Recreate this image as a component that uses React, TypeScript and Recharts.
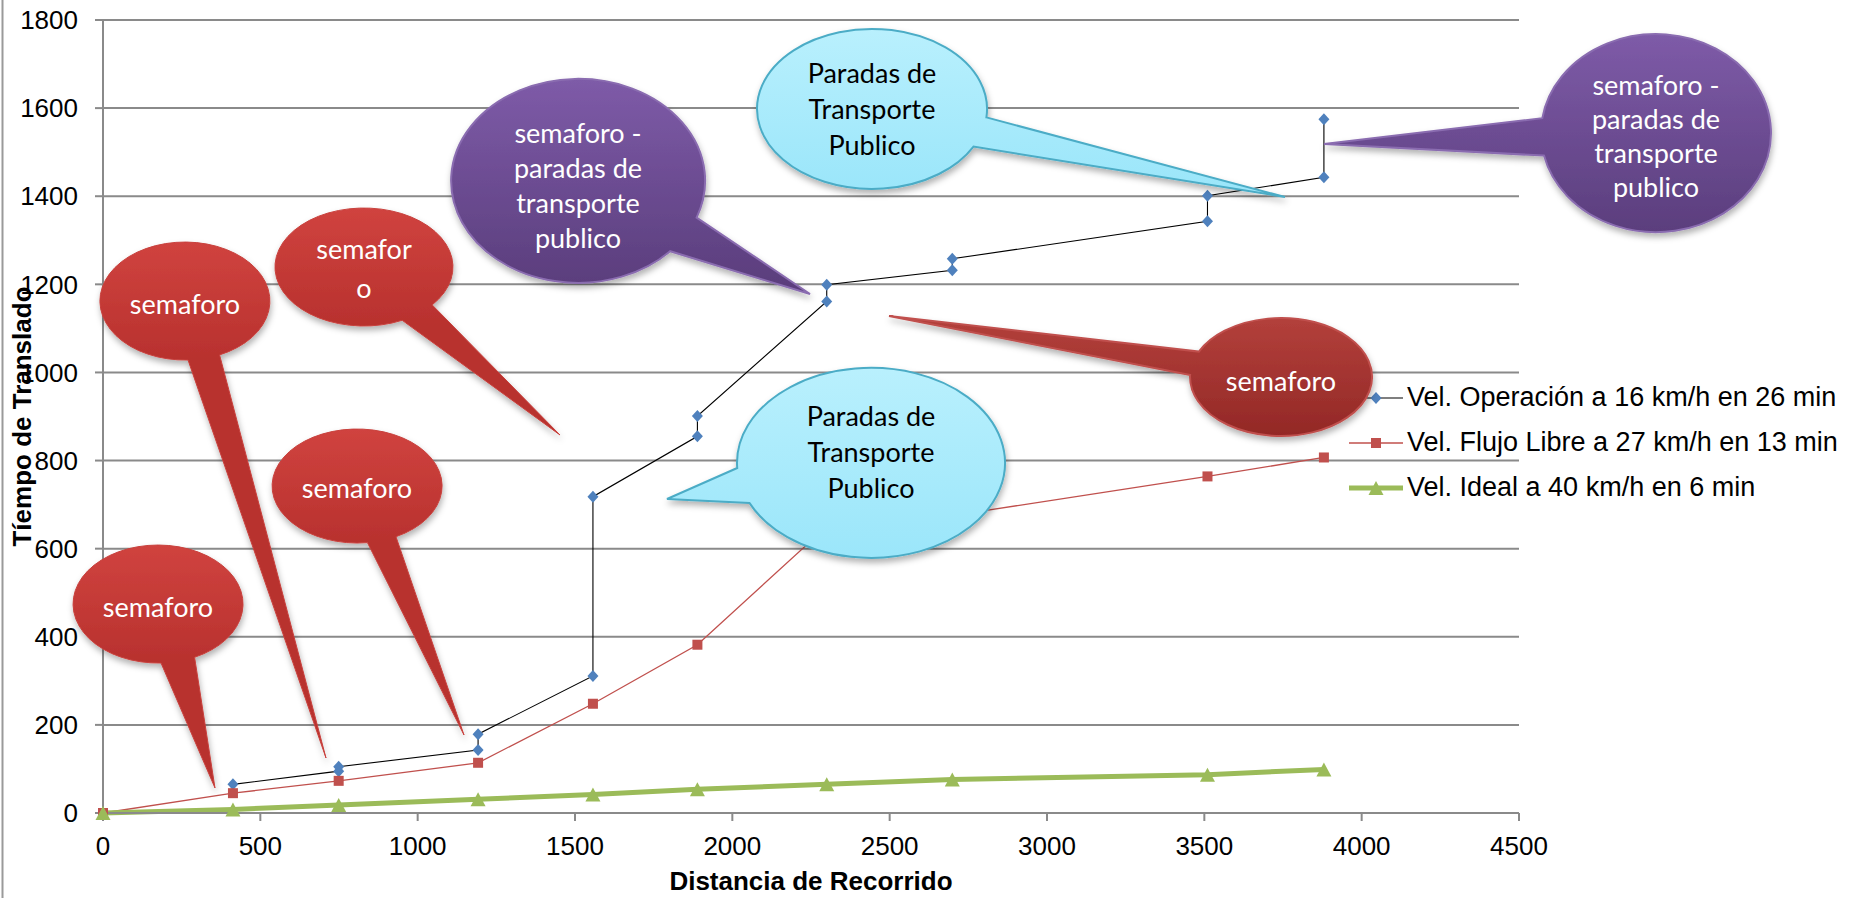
import React from "react";
import { CartesianGrid, Label, Legend, Line, LineChart, XAxis, YAxis } from "recharts";

// distancia (m) y tiempo (s)
const distOperacion = [413, 749, 749, 1192, 1192, 1557, 1557, 1889, 1889, 2300, 2300, 2699, 2699, 3510, 3510, 3880, 3880];
const tiempoOperacion = [65, 95, 105, 143, 179, 311, 718, 855, 901, 1161, 1199, 1232, 1258, 1343, 1401, 1443, 1575];

const distFlujo = [0, 413, 749, 1192, 1557, 1889, 2300, 2699, 3510, 3880];
const tiempoFlujo = [0, 45, 73, 114, 248, 382, 650, 675, 764, 807];

const distIdeal = [0, 413, 749, 1192, 1557, 1889, 2300, 2699, 3510, 3880];
const tiempoIdeal = [0, 8, 18, 31, 42, 54, 65, 76, 87, 99];

const xTicks = [0, 500, 1000, 1500, 2000, 2500, 3000, 3500, 4000, 4500];
const yTicks = [0, 200, 400, 600, 800, 1000, 1200, 1400, 1600, 1800];

const nameOperacion = "Vel. Operación a 16 km/h en 26 min";
const nameFlujo = "Vel. Flujo Libre a 27 km/h en 13 min";
const nameIdeal = "Vel. Ideal a 40 km/h en 6 min";
const legendOrder = [nameOperacion, nameFlujo, nameIdeal];

const FONT = "'Liberation Sans', Arial, sans-serif";
const CALLOUT_FONT = "Lato, 'Open Sans', sans-serif";

const toPoints = (xs: number[], ys: number[]) => xs.map((x, i) => ({ x, y: ys[i] }));

const BLUE = "#4F81BD";
const RED = "#C0504D";
const GREEN = "#9BBB59";

const Diamond = (props: any) => {
  const { cx, cy } = props;
  if (cx == null || cy == null) return null;
  return <path d={`M${cx},${cy - 6}L${cx + 5.5},${cy}L${cx},${cy + 6}L${cx - 5.5},${cy}Z`} fill={BLUE} />;
};

const Square = (props: any) => {
  const { cx, cy } = props;
  if (cx == null || cy == null) return null;
  return <rect x={cx - 5} y={cy - 5} width={10} height={10} fill={RED} />;
};

const Triangle = (props: any) => {
  const { cx, cy } = props;
  if (cx == null || cy == null) return null;
  return <path d={`M${cx},${cy - 7}L${cx + 7.5},${cy + 7}L${cx - 7.5},${cy + 7}Z`} fill={GREEN} />;
};

const legendStyles: Record<string, { line: string; w: number; marker: string }> = {
  [nameOperacion]: { line: "#000", w: 1.2, marker: "diamond" },
  [nameFlujo]: { line: RED, w: 1.5, marker: "square" },
  [nameIdeal]: { line: GREEN, w: 5, marker: "triangle" },
};

const renderLegend = (props: any) => {
  const items = [...(props.payload || [])].sort(
    (a: any, b: any) => legendOrder.indexOf(a.value) - legendOrder.indexOf(b.value)
  );
  return (
    <div style={{ fontFamily: FONT, fontSize: 27, color: "#000" }}>
      {items.map((it: any, i: number) => {
        const s = legendStyles[it.value];
        if (!s) return null;
        return (
          <div key={i} style={{ display: "flex", alignItems: "center", height: 45 }}>
            <svg width={54} height={20} style={{ marginRight: 4, flex: "none" }}>
              <line x1={0} y1={10} x2={54} y2={10} stroke={s.line} strokeWidth={s.w} />
              {s.marker === "diamond" && <Diamond cx={27} cy={10} />}
              {s.marker === "square" && <Square cx={27} cy={10} />}
              {s.marker === "triangle" && <Triangle cx={27} cy={10} />}
            </svg>
            <span style={{ whiteSpace: "nowrap" }}>{it.value}</span>
          </div>
        );
      })}
    </div>
  );
};

// globos de texto (anotaciones sobre el grafico, en pixeles)
type Callout = {
  cx: number; cy: number; rx: number; ry: number;
  a1: number; a2: number; tip: [number, number];
  lines: string[]; textY: number; lh: number;
  top: string; bottom: string; stroke: string; sw: number; color: string;
};

const redBubble = { top: "#D0433F", bottom: "#B8312E", stroke: "#C8413D", sw: 1, color: "#fff" };
const purpleBubble = { top: "#7E5BA8", bottom: "#5B3E7D", stroke: "#8A6CB0", sw: 2, color: "#fff" };
const cyanBubble = { top: "#B9F0FD", bottom: "#9BE6FA", stroke: "#4BACC6", sw: 2, color: "#000" };

const callouts: Callout[] = [
  { cx: 158, cy: 604, rx: 85, ry: 59, a1: 64.5, a2: 88, tip: [215, 788], lines: ["semaforo"], textY: 606, lh: 35, ...redBubble },
  { cx: 185, cy: 301, rx: 85, ry: 59, a1: 66, a2: 88, tip: [326, 758], lines: ["semaforo"], textY: 303, lh: 35, ...redBubble },
  { cx: 364, cy: 267, rx: 89, ry: 59, a1: 40, a2: 64.6, tip: [560, 435], lines: ["semafor", "o"], textY: 268, lh: 39, ...redBubble },
  { cx: 357, cy: 486, rx: 85, ry: 57, a1: 62.7, a2: 83, tip: [464, 735], lines: ["semaforo"], textY: 487, lh: 35, ...redBubble },
  { cx: 578, cy: 181, rx: 127, ry: 102, a1: 21, a2: 43.5, tip: [810, 294], lines: ["semaforo -", "paradas de", "transporte", "publico"], textY: 185, lh: 35, ...purpleBubble },
  { cx: 872, cy: 109, rx: 115, ry: 80, a1: 6, a2: 28, tip: [1285, 197], lines: ["Paradas de", "Transporte", "Publico"], textY: 108, lh: 36, ...cyanBubble },
  { cx: 871, cy: 463, rx: 134, ry: 95, a1: 155, a2: 177, tip: [667, 499], lines: ["Paradas de", "Transporte", "Publico"], textY: 451, lh: 36, ...cyanBubble },
  { cx: 1281, cy: 377, rx: 91, ry: 59, a1: 182, a2: 205.5, tip: [889, 316], lines: ["semaforo"], textY: 380, lh: 35, top: "#B3403B", bottom: "#932826", stroke: "#C0504D", sw: 2, color: "#fff" },
  { cx: 1656, cy: 133, rx: 115, ry: 99, a1: 166.8, a2: 188.6, tip: [1324, 144], lines: ["semaforo -", "paradas de", "transporte", "publico"], textY: 135, lh: 34, ...purpleBubble },
];

const onEllipse = (c: Callout, a: number) => {
  const r = (a * Math.PI) / 180;
  return `${(c.cx + c.rx * Math.cos(r)).toFixed(1)},${(c.cy + c.ry * Math.sin(r)).toFixed(1)}`;
};

const bubblePath = (c: Callout) => {
  const p1 = onEllipse(c, c.a1);
  const p2 = onEllipse(c, c.a2);
  return `M${p1} L${c.tip[0]},${c.tip[1]} L${p2} A${c.rx} ${c.ry} 0 1 1 ${p1} Z`;
};

const CalloutLayer = () => (
  <svg width={1859} height={898} style={{ position: "absolute", left: 0, top: 0, pointerEvents: "none" }}>
    <defs>
      <filter id="bubbleShadow" x="-30%" y="-30%" width="160%" height="170%">
        <feDropShadow dx={1} dy={4} stdDeviation={3} floodColor="#000" floodOpacity={0.3} />
      </filter>
      {callouts.map((c, i) => (
        <linearGradient key={i} id={`bg${i}`} gradientUnits="userSpaceOnUse" x1={0} y1={c.cy - c.ry} x2={0} y2={c.cy + c.ry}>
          <stop offset="0%" stopColor={c.top} />
          <stop offset="100%" stopColor={c.bottom} />
        </linearGradient>
      ))}
    </defs>
    <line x1={2.5} y1={0} x2={2.5} y2={898} stroke="#9a9a9a" strokeWidth={2} />
    {callouts.map((c, i) => {
      const y0 = c.textY - ((c.lines.length - 1) * c.lh) / 2;
      return (
        <g key={i}>
          <path d={bubblePath(c)} fill={`url(#bg${i})`} stroke={c.stroke} strokeWidth={c.sw} filter="url(#bubbleShadow)" />
          {c.lines.map((t, j) => (
            <text key={j} x={c.cx} y={y0 + j * c.lh} textAnchor="middle" dominantBaseline="central"
              fontFamily={CALLOUT_FONT} fontSize={27} fill={c.color}>
              {t}
            </text>
          ))}
        </g>
      );
    })}
  </svg>
);

const renderYLabel = (props: any) => {
  const vb = props.viewBox || { x: 0, y: 20, width: 103, height: 793 };
  const cy = vb.y + vb.height / 2;
  return (
    <text x={31} y={cy} transform={`rotate(-90 31 ${cy})`} textAnchor="middle"
      fontFamily={FONT} fontSize={26} fontWeight="bold" fill="#000">
      Tíempo de Translado
    </text>
  );
};

const renderXLabel = (props: any) => {
  const vb = props.viewBox || { x: 103, y: 813, width: 1416, height: 85 };
  return (
    <text x={vb.x + vb.width / 2} y={890} textAnchor="middle"
      fontFamily={FONT} fontSize={26} fontWeight="bold" fill="#000">
      Distancia de Recorrido
    </text>
  );
};

export default function App() {
  const tickStyle = { fill: "#000", fontSize: 26, fontFamily: FONT };
  return (
    <div style={{ position: "absolute", left: 0, top: 0, width: 1859, height: 898, background: "#fff" }}>
      <LineChart width={1859} height={898} margin={{ top: 20, right: 340, bottom: 0, left: 0 }}>
        <CartesianGrid horizontal vertical={false} stroke="#8a8a8a" strokeWidth={2} />
        <XAxis
          dataKey="x"
          type="number"
          domain={[0, 4500]}
          ticks={xTicks}
          interval={0}
          height={85}
          tickSize={8}
          tickMargin={16}
          stroke="#8a8a8a"
          strokeWidth={2}
          tick={tickStyle}
        >
          <Label content={renderXLabel} />
        </XAxis>
        <YAxis
          type="number"
          domain={[0, 1800]}
          ticks={yTicks}
          interval={0}
          width={103}
          tickSize={8}
          tickMargin={17}
          stroke="#8a8a8a"
          strokeWidth={2}
          tick={tickStyle}
        >
          <Label content={renderYLabel} />
        </YAxis>
        <Legend
          layout="vertical"
          align="center"
          verticalAlign="middle"
          content={renderLegend}
          wrapperStyle={{ left: 1349, top: 375, width: 510 }}
        />
        <Line
          name={nameOperacion}
          data={toPoints(distOperacion, tiempoOperacion)}
          dataKey="y"
          stroke="#000"
          strokeWidth={1.1}
          dot={<Diamond />}
          activeDot={false}
          isAnimationActive={false}
        />
        <Line
          name={nameFlujo}
          data={toPoints(distFlujo, tiempoFlujo)}
          dataKey="y"
          stroke={RED}
          strokeWidth={1.3}
          dot={<Square />}
          activeDot={false}
          isAnimationActive={false}
        />
        <Line
          name={nameIdeal}
          data={toPoints(distIdeal, tiempoIdeal)}
          dataKey="y"
          stroke={GREEN}
          strokeWidth={5}
          dot={<Triangle />}
          activeDot={false}
          isAnimationActive={false}
        />
      </LineChart>
      <CalloutLayer />
    </div>
  );
}
